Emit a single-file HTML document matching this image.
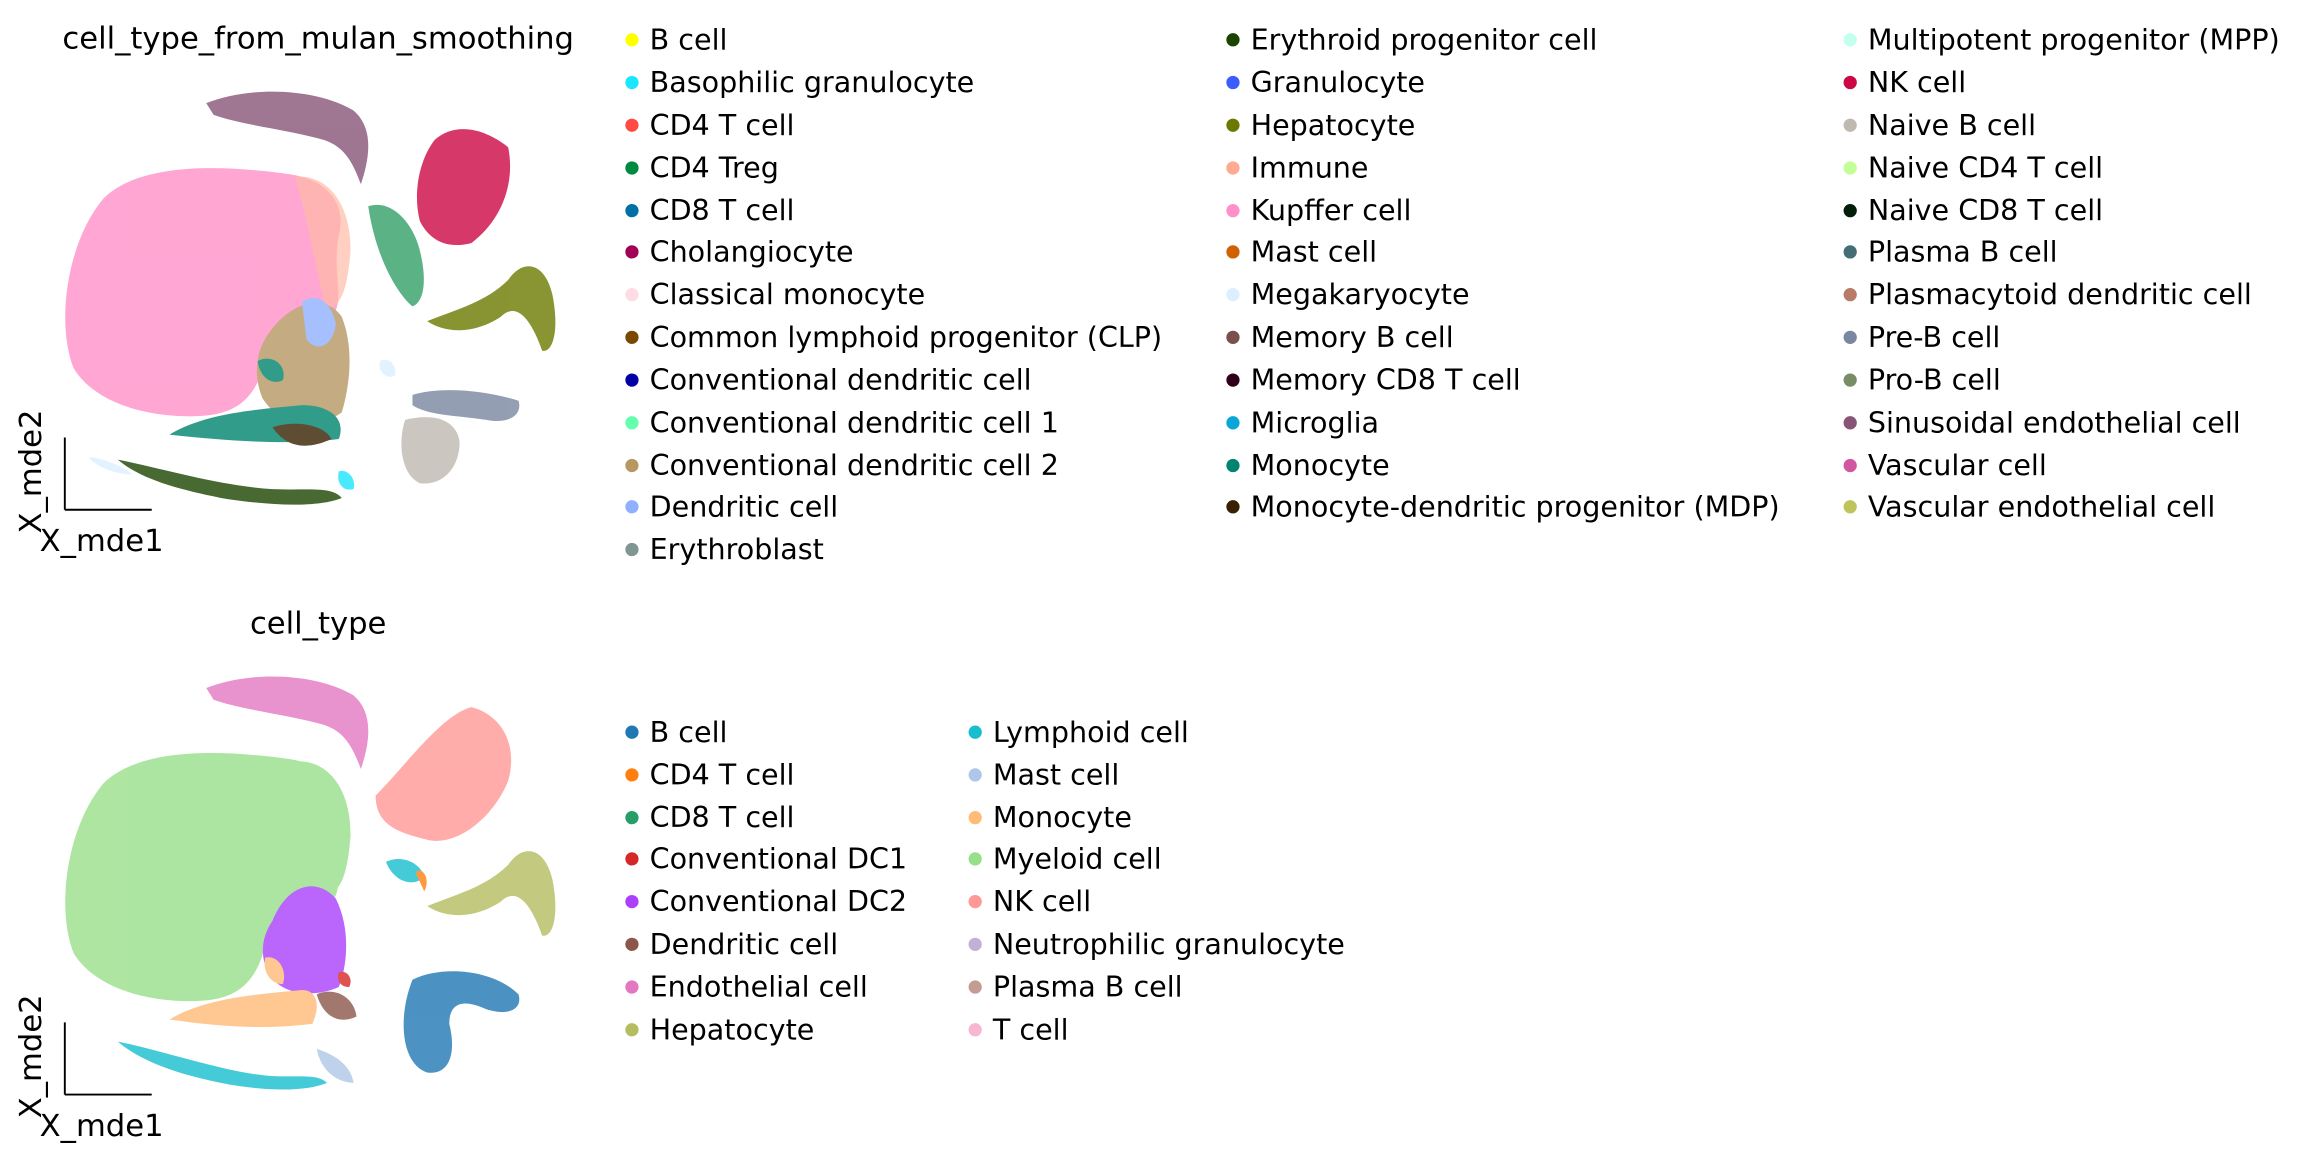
<!DOCTYPE html>
<html><head><meta charset="utf-8"><style>
html,body{margin:0;padding:0;background:#fff;}
svg{display:block;}
text{font-family:"DejaVu Sans","Liberation Sans",sans-serif;fill:#000;}
.lg{font-size:19.4px;}
.t{font-size:20.8px;}
</style></head><body>
<svg width="2298" height="1155" viewBox="0 0 1560 784" preserveAspectRatio="none" xmlns="http://www.w3.org/2000/svg">
<!-- TOP PLOT -->
<text class="t" x="216" y="33" text-anchor="middle">cell_type_from_mulan_smoothing</text>
<g opacity="0.8">
<path d="M140,70 C170,58 215,60 240,75 C255,88 250,110 245,125 C240,112 235,100 220,95 C195,88 165,85 145,78 Z" fill="#885578"/>
<path d="M70,135 C95,110 150,112 195,118 C225,122 235,140 230,160 C225,185 235,205 225,215 C205,215 185,225 180,245 C175,265 165,280 140,282 C105,285 65,275 50,250 C38,220 45,165 70,135 Z" fill="#FF90C9"/>
<path d="M200,120 C220,118 238,135 238,170 C236,195 232,208 222,210 C215,190 210,150 200,120 Z" fill="#FFAA92" opacity="0.7"/>
<path d="M295,95 C310,82 330,88 345,100 C350,125 340,150 320,165 C300,170 290,160 285,150 C280,130 285,108 295,95 Z" fill="#CC0744"/>
<path d="M250,140 C265,135 280,150 285,170 C290,190 288,205 280,208 C270,200 255,175 250,140 Z" fill="#008941" opacity="0.8"/>
<path d="M290,218 C310,210 330,205 345,190 C355,175 370,178 375,200 C380,225 375,240 368,238 C360,215 350,205 340,215 C325,225 305,228 290,218 Z" fill="#6B7900"/>
<path d="M180,230 C195,205 220,198 232,215 C240,235 238,260 232,280 C215,292 190,290 178,270 C172,255 174,240 180,230 Z" fill="#B79762"/>
<path d="M205,205 C215,198 225,205 228,220 C226,235 215,240 208,230 Z" fill="#8FB0FF"/>
<path d="M175,245 C185,240 195,248 192,258 C185,262 176,256 175,245 Z" fill="#00846F"/>
<path d="M115,295 C140,280 175,278 205,275 C225,275 235,285 230,298 C200,302 160,300 115,295 Z" fill="#00846F"/>
<path d="M185,290 C200,285 220,288 225,298 C210,305 195,305 185,290 Z" fill="#372101"/>
<path d="M80,312 C110,318 150,330 185,332 C210,333 225,330 232,338 C215,345 180,343 150,338 C120,332 95,325 80,312 Z" fill="#1B4400"/>
<path d="M60,310 C75,312 85,318 90,322 C80,322 66,318 60,310 Z" fill="#DDEFFF"/>
<path d="M280,268 C300,262 330,265 352,272 C355,282 345,288 330,285 C310,282 290,282 280,275 Z" fill="#7A87A1"/>
<path d="M275,285 C295,280 310,285 312,300 C312,318 300,330 285,328 C272,322 270,300 275,285 Z" fill="#C0B9B2"/>
<path d="M258,245 C264,242 270,248 268,255 C262,258 256,252 258,245 Z" fill="#DDEFFF"/>
<path d="M230,320 C236,318 242,325 240,332 C233,334 228,328 230,320 Z" fill="#1CE6FF"/>
</g>
<line x1="44" y1="297" x2="44" y2="346" stroke="#000" stroke-width="1.3"/>
<line x1="44" y1="346" x2="103" y2="346" stroke="#000" stroke-width="1.3"/>
<text class="t" x="69" y="374" text-anchor="middle">X_mde1</text>
<text class="t" transform="translate(28,320) rotate(-90)" text-anchor="middle">X_mde2</text>

<!-- BOTTOM PLOT -->
<text class="t" x="216" y="430" text-anchor="middle">cell_type</text>
<g opacity="0.8">
<path d="M140,467 C170,455 215,457 240,472 C255,485 250,507 245,522 C240,509 235,497 220,492 C195,485 165,482 145,475 Z" fill="#e377c2"/>
<path d="M70,532 C95,507 150,509 195,515 C225,519 235,537 230,557 C225,582 235,602 225,612 C205,612 185,622 180,642 C175,662 165,677 140,679 C105,682 65,672 50,647 C38,617 45,562 70,532 Z" fill="#98df8a"/>
<path d="M200,517 C220,515 238,532 238,567 C236,592 232,605 222,607 C215,587 210,547 200,517 Z" fill="#98df8a"/>
<path d="M255,540 C275,520 300,485 320,480 C340,485 352,505 345,530 C335,555 310,575 290,570 C270,565 255,560 255,540 Z" fill="#ff9896"/>
<path d="M262,585 C272,580 285,585 288,595 C282,602 268,600 262,585 Z" fill="#17becf"/>
<path d="M282,592 C288,588 292,598 288,605 Z" fill="#ff7f0e"/>
<path d="M290,615 C310,607 330,602 345,587 C355,572 370,575 375,597 C380,622 375,637 368,635 C360,612 350,602 340,612 C325,622 305,625 290,615 Z" fill="#b5bd61"/>
<path d="M185,625 C195,600 215,595 228,610 C238,630 236,655 230,670 C212,678 190,675 182,660 C176,648 178,635 185,625 Z" fill="#aa40fc"/>
<path d="M180,650 C190,648 195,660 192,668 C184,668 178,660 180,650 Z" fill="#ffbb78"/>
<path d="M115,692 C140,677 175,675 205,672 C215,672 218,682 212,695 C180,699 150,697 115,692 Z" fill="#ffbb78"/>
<path d="M215,675 C225,670 240,675 242,690 C232,695 220,692 215,675 Z" fill="#8c564b"/>
<path d="M230,660 C236,658 240,665 237,670 C231,670 228,665 230,660 Z" fill="#d62728"/>
<path d="M80,707 C110,713 150,727 180,730 C200,732 215,728 222,735 C205,742 175,740 150,735 C120,729 95,720 80,707 Z" fill="#17becf"/>
<path d="M215,712 C225,715 238,722 240,735 C230,735 218,728 215,712 Z" fill="#aec7e8"/>
<path d="M280,665 C300,655 335,658 352,675 C355,685 345,690 330,685 C315,678 305,680 305,695 C310,715 305,730 290,728 C272,722 270,690 280,665 Z" fill="#1f77b4"/>
</g>
<line x1="44" y1="694" x2="44" y2="743" stroke="#000" stroke-width="1.3"/>
<line x1="44" y1="743" x2="103" y2="743" stroke="#000" stroke-width="1.3"/>
<text class="t" x="69" y="771" text-anchor="middle">X_mde1</text>
<text class="t" transform="translate(28,717) rotate(-90)" text-anchor="middle">X_mde2</text>

<!-- TOP LEGEND -->
<g class="lg">
<circle cx="429" cy="27" r="4.5" fill="#FFFF00"/><text x="441" y="33.5">B cell</text>
<circle cx="429" cy="56" r="4.5" fill="#1CE6FF"/><text x="441" y="62.5">Basophilic granulocyte</text>
<circle cx="429" cy="85" r="4.5" fill="#FF4A46"/><text x="441" y="91.5">CD4 T cell</text>
<circle cx="429" cy="114" r="4.5" fill="#008941"/><text x="441" y="120.5">CD4 Treg</text>
<circle cx="429" cy="143" r="4.5" fill="#006FA6"/><text x="441" y="149.5">CD8 T cell</text>
<circle cx="429" cy="171" r="4.5" fill="#A30059"/><text x="441" y="177.5">Cholangiocyte</text>
<circle cx="429" cy="200" r="4.5" fill="#FFDBE5"/><text x="441" y="206.5">Classical monocyte</text>
<circle cx="429" cy="229" r="4.5" fill="#7A4900"/><text x="441" y="235.5">Common lymphoid progenitor (CLP)</text>
<circle cx="429" cy="258" r="4.5" fill="#0000A6"/><text x="441" y="264.5">Conventional dendritic cell</text>
<circle cx="429" cy="287" r="4.5" fill="#63FFAC"/><text x="441" y="293.5">Conventional dendritic cell 1</text>
<circle cx="429" cy="316" r="4.5" fill="#B79762"/><text x="441" y="322.5">Conventional dendritic cell 2</text>
<circle cx="429" cy="344" r="4.5" fill="#8FB0FF"/><text x="441" y="350.5">Dendritic cell</text>
<circle cx="429" cy="373" r="4.5" fill="#809693"/><text x="441" y="379.5">Erythroblast</text>

<circle cx="837" cy="27" r="4.5" fill="#1B4400"/><text x="849" y="33.5">Erythroid progenitor cell</text>
<circle cx="837" cy="56" r="4.5" fill="#3B5DFF"/><text x="849" y="62.5">Granulocyte</text>
<circle cx="837" cy="85" r="4.5" fill="#6B7900"/><text x="849" y="91.5">Hepatocyte</text>
<circle cx="837" cy="114" r="4.5" fill="#FFAA92"/><text x="849" y="120.5">Immune</text>
<circle cx="837" cy="143" r="4.5" fill="#FF90C9"/><text x="849" y="149.5">Kupffer cell</text>
<circle cx="837" cy="171" r="4.5" fill="#D16100"/><text x="849" y="177.5">Mast cell</text>
<circle cx="837" cy="200" r="4.5" fill="#DDEFFF"/><text x="849" y="206.5">Megakaryocyte</text>
<circle cx="837" cy="229" r="4.5" fill="#7B4F4B"/><text x="849" y="235.5">Memory B cell</text>
<circle cx="837" cy="258" r="4.5" fill="#300018"/><text x="849" y="264.5">Memory CD8 T cell</text>
<circle cx="837" cy="287" r="4.5" fill="#0AA6D8"/><text x="849" y="293.5">Microglia</text>
<circle cx="837" cy="316" r="4.5" fill="#00846F"/><text x="849" y="322.5">Monocyte</text>
<circle cx="837" cy="344" r="4.5" fill="#372101"/><text x="849" y="350.5">Monocyte-dendritic progenitor (MDP)</text>

<circle cx="1256" cy="27" r="4.5" fill="#C2FFED"/><text x="1268" y="33.5">Multipotent progenitor (MPP)</text>
<circle cx="1256" cy="56" r="4.5" fill="#CC0744"/><text x="1268" y="62.5">NK cell</text>
<circle cx="1256" cy="85" r="4.5" fill="#C0B9B2"/><text x="1268" y="91.5">Naive B cell</text>
<circle cx="1256" cy="114" r="4.5" fill="#C2FF99"/><text x="1268" y="120.5">Naive CD4 T cell</text>
<circle cx="1256" cy="143" r="4.5" fill="#001E09"/><text x="1268" y="149.5">Naive CD8 T cell</text>
<circle cx="1256" cy="171" r="4.5" fill="#456D75"/><text x="1268" y="177.5">Plasma B cell</text>
<circle cx="1256" cy="200" r="4.5" fill="#B77B68"/><text x="1268" y="206.5">Plasmacytoid dendritic cell</text>
<circle cx="1256" cy="229" r="4.5" fill="#7A87A1"/><text x="1268" y="235.5">Pre-B cell</text>
<circle cx="1256" cy="258" r="4.5" fill="#788D66"/><text x="1268" y="264.5">Pro-B cell</text>
<circle cx="1256" cy="287" r="4.5" fill="#885578"/><text x="1268" y="293.5">Sinusoidal endothelial cell</text>
<circle cx="1256" cy="316" r="4.5" fill="#D157A0"/><text x="1268" y="322.5">Vascular cell</text>
<circle cx="1256" cy="344" r="4.5" fill="#BEC459"/><text x="1268" y="350.5">Vascular endothelial cell</text>

<!-- BOTTOM LEGEND -->
<circle cx="429" cy="497" r="4.5" fill="#1f77b4"/><text x="441" y="503.5">B cell</text>
<circle cx="429" cy="526" r="4.5" fill="#ff7f0e"/><text x="441" y="532.5">CD4 T cell</text>
<circle cx="429" cy="555" r="4.5" fill="#279e68"/><text x="441" y="561.5">CD8 T cell</text>
<circle cx="429" cy="583" r="4.5" fill="#d62728"/><text x="441" y="589.5">Conventional DC1</text>
<circle cx="429" cy="612" r="4.5" fill="#aa40fc"/><text x="441" y="618.5">Conventional DC2</text>
<circle cx="429" cy="641" r="4.5" fill="#8c564b"/><text x="441" y="647.5">Dendritic cell</text>
<circle cx="429" cy="670" r="4.5" fill="#e377c2"/><text x="441" y="676.5">Endothelial cell</text>
<circle cx="429" cy="699" r="4.5" fill="#b5bd61"/><text x="441" y="705.5">Hepatocyte</text>

<circle cx="662" cy="497" r="4.5" fill="#17becf"/><text x="674" y="503.5">Lymphoid cell</text>
<circle cx="662" cy="526" r="4.5" fill="#aec7e8"/><text x="674" y="532.5">Mast cell</text>
<circle cx="662" cy="555" r="4.5" fill="#ffbb78"/><text x="674" y="561.5">Monocyte</text>
<circle cx="662" cy="583" r="4.5" fill="#98df8a"/><text x="674" y="589.5">Myeloid cell</text>
<circle cx="662" cy="612" r="4.5" fill="#ff9896"/><text x="674" y="618.5">NK cell</text>
<circle cx="662" cy="641" r="4.5" fill="#c5b0d5"/><text x="674" y="647.5">Neutrophilic granulocyte</text>
<circle cx="662" cy="670" r="4.5" fill="#c49c94"/><text x="674" y="676.5">Plasma B cell</text>
<circle cx="662" cy="699" r="4.5" fill="#f7b6d2"/><text x="674" y="705.5">T cell</text>
</g>
</svg>
</body></html>
